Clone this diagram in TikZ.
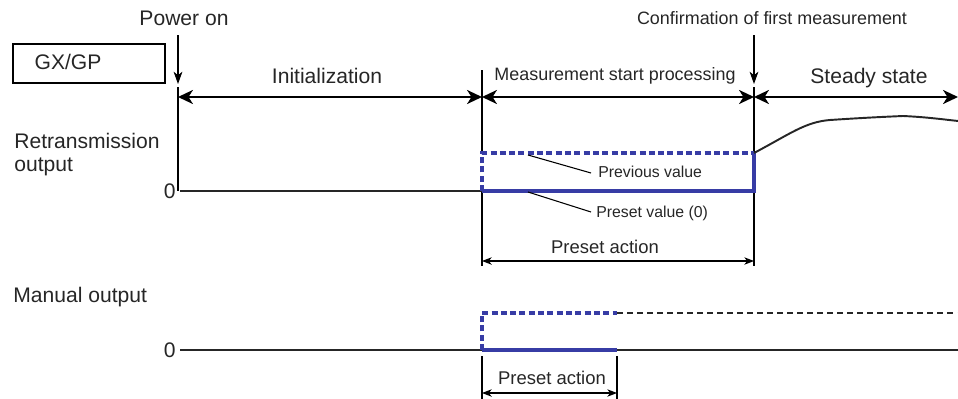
\documentclass[tikz,border=0pt]{standalone}
\usepackage{fontspec}
\setmainfont{Liberation Sans}
\usepackage{tikz}
\usetikzlibrary{arrows.meta}
\definecolor{presetblue}{RGB}{55,60,165}
\tikzset{
  bigtip/.tip={Stealth[length=8.5pt,width=8pt,inset=2.5pt]},
  smalltip/.tip={Stealth[length=5.5pt,width=4.2pt,inset=1.6pt]},
  span/.style={line width=1.1pt,bigtip-bigtip},
  mark line/.style={line width=0.6pt},
  sig/.style={line width=1.1pt,black!85},
  presetsig/.style={line width=2pt,presetblue},
  presetdash/.style={line width=2pt,presetblue,dash pattern=on 3.4pt off 1.9pt},
  leader/.style={line width=0.6pt}
}
\begin{document}
\begin{tikzpicture}[x=0.02cm,y=-0.02cm,every node/.style={font=\fontsize{12}{14}\selectfont,text=black!85,inner sep=0pt}]
\useasboundingbox (0,0) rectangle (958,399);
\node (gxbox) [draw,line width=1pt,minimum width=152*0.02cm,minimum height=39*0.02cm,anchor=north west] at (12,43) {};
\node (gx) at (68,62) {GX/GP};
\node (pon) at (184,18) {Power on};
\node (conf) at (772,18) [font=\fontsize{10.2}{12}\selectfont] {Confirmation of first measurement};
\node (init) at (327,76) {Initialization};
\node (msp) at (615,76) [font=\fontsize{10.2}{12}\selectfont] {Measurement start processing};
\node (steady) at (869,78) {Steady state};
\node (retr) at (14,141) [anchor=west] {Retransmission};
\node (retrout) at (14,167) [anchor=west] {output};
\node (zeroa) at (176,191) [anchor=east] {0};
\node (man) at (13,297) [anchor=west] {Manual output};
\node (zerob) at (176,350) [anchor=east] {0};
\node (prev) at (598,172) [anchor=west,font=\fontsize{9}{11}\selectfont] {Previous value};
\node (pval) at (596,213) [anchor=west,font=\fontsize{9}{11}\selectfont] {Preset value (0)};
\node (acta) at (605,247) [font=\fontsize{10.5}{12}\selectfont] {Preset action};
\node (actb) at (552,378) [font=\fontsize{10.5}{12}\selectfont] {Preset action};
\coordinate (pontop) at (178,35);
\coordinate (pontip) at (178,84);
\coordinate (conftop) at (754,35);
\coordinate (conftip) at (754,84);
\coordinate (t0) at (178,97);
\coordinate (t1) at (482,97);
\coordinate (t2) at (754,97);
\coordinate (t3) at (958,97);
\draw[mark line,-{Stealth[length=7pt,width=5pt,inset=2pt]}] (pontop) -- (pontip);
\draw[mark line,-{Stealth[length=7pt,width=5pt,inset=2pt]}] (conftop) -- (conftip);
\draw[mark line] (178,87) -- (178,191);
\draw[mark line] (482,70) -- (482,153);
\draw[mark line] (482,191) -- (482,266);
\draw[mark line] (754,87) -- (754,153);
\draw[mark line] (754,191) -- (754,266);
\draw[span] (t0) -- (t1);
\draw[span] (t1) -- (t2);
\draw[span] (t2) -- (t3);
\coordinate (ra) at (180,191);
\coordinate (rb) at (482,191);
\coordinate (rc) at (754,191);
\coordinate (rd) at (482,153);
\coordinate (re) at (754,153);
\draw[sig] (ra) -- (rb);
\draw[presetdash] (rb) -- (rd) -- (re);
\draw[presetsig] (rb) -- (rc) -- (re);
\draw[sig] (re) .. controls (790,134) and (805,122) .. (830,120)
  .. controls (860,118) and (880,117) .. (903,116)
  .. controls (925,117) and (940,119) .. (958,121);
\coordinate (prevend) at (591,173);
\coordinate (pvalend) at (591,212);
\draw[leader] (528,155) -- (prevend);
\draw[leader] (528,192) -- (pvalend);
\draw[mark line,smalltip-smalltip] (482,261) -- (754,261);
\coordinate (ma) at (180,350);
\coordinate (mb) at (482,350);
\coordinate (mc) at (617,350);
\coordinate (md) at (482,313);
\coordinate (me) at (617,313);
\draw[sig] (ma) -- (958,350);
\draw[presetsig] (mb) -- (mc);
\draw[presetdash] (mb) -- (md) -- (me);
\draw[line width=1pt,black!85,dash pattern=on 3.4pt off 2.3pt] (me) -- (958,313);
\draw[mark line] (482,356) -- (482,399);
\draw[mark line] (617,356) -- (617,399);
\draw[mark line,smalltip-smalltip] (482,393) -- (617,393);
\end{tikzpicture}
\end{document}
